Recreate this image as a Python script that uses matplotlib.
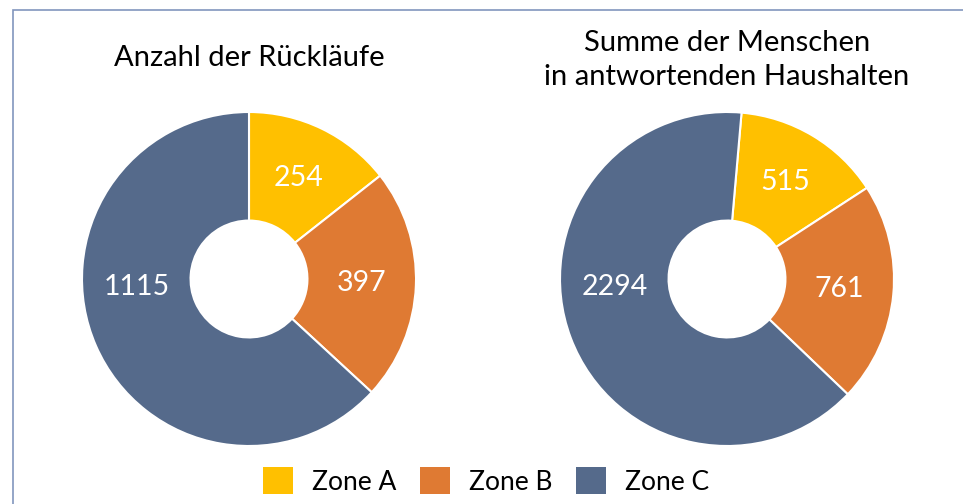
import numpy as np
import matplotlib.pyplot as plt
from matplotlib.patches import Rectangle, Patch

zones = ['Zone A', 'Zone B', 'Zone C']
colors = ['#FFC000', '#DF7A33', '#556A8B']
titles = ['Anzahl der Rückläufe', 'Summe der Menschen\nin antwortenden Haushalten']
rueckl = [254, 397, 1115]
menschen = [515, 761, 2294]
start = [90, 85]

plt.rcParams['font.family'] = ['Lato', 'DejaVu Sans']

fig = plt.figure(figsize=(9.63, 5.04), dpi=100)
# Rahmen (rechts/unten abgeschnitten)
fig.patches.append(Rectangle((13/963, -0.1), 1.1, 1.1 - 10/504, transform=fig.transFigure,
                             fill=False, edgecolor='#8196BD', linewidth=1.2))

centers = [249, 727]
R = 167
for k, vals in enumerate([rueckl, menschen]):
    ax = fig.add_axes([(centers[k] - R)/963, (504 - 279 - R)/504, 2*R/963, 2*R/504])
    wedges, _ = ax.pie(vals, colors=colors, startangle=start[k], counterclock=False,
                       radius=1, wedgeprops=dict(width=0.65, edgecolor='white', linewidth=1.5))
    ax.set_xlim(-1, 1)
    ax.set_ylim(-1, 1)
    ax.set_aspect('equal')
    ax.axis('off')
    cum = np.cumsum([0] + vals) / sum(vals) * 360
    for i, v in enumerate(vals):
        mid = (cum[i] + cum[i+1]) / 2 + (90 - start[k])
        if i == len(vals) - 1:
            mid = 266
        a = np.radians(mid)
        r = 0.675
        ax.text(r*np.sin(a), r*np.cos(a), str(v), color='white', fontsize=20.5,
                ha='center', va='center')
    fig.text(centers[k]/963, 1 - (58 if k == 0 else 60)/504, titles[k], ha='center', va='center',
             fontsize=21, color='black', linespacing=1.35)

handles = [Patch(facecolor=c, edgecolor='none') for c in colors]
fig.legend(handles, zones, loc='center', bbox_to_anchor=(486/963, 1 - 481/504), ncol=3,
           frameon=False, fontsize=19, handlelength=1.15, handleheight=1.15,
           handletextpad=0.7, columnspacing=0.9)

fig.savefig('out.png', dpi=100)
